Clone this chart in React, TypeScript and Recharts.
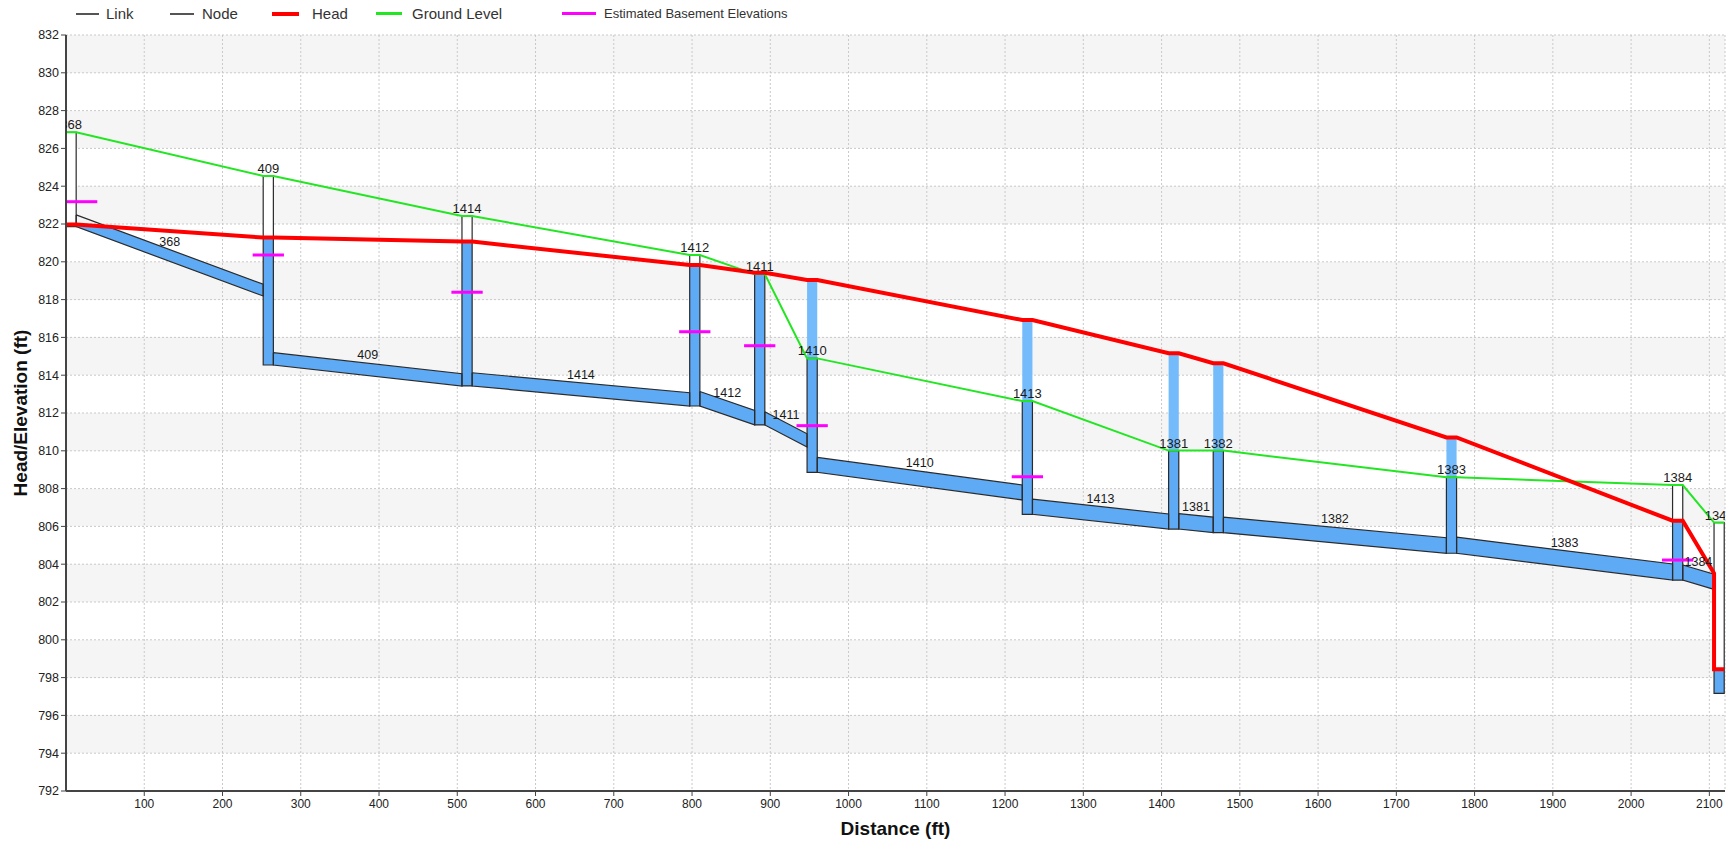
import React from 'react';
import { ComposedChart, XAxis, YAxis, CartesianGrid, Line, Area, ReferenceArea } from 'recharts';

const FONT = '"Liberation Sans", Arial, Helvetica, sans-serif';

// ---------- axes ----------
const xTicks = [100, 200, 300, 400, 500, 600, 700, 800, 900, 1000, 1100, 1200, 1300, 1400, 1500, 1600, 1700, 1800, 1900, 2000, 2100];
const yTicks = [792, 794, 796, 798, 800, 802, 804, 806, 808, 810, 812, 814, 816, 818, 820, 822, 824, 826, 828, 830, 832];
const xDomain = [0, 2120];
const yDomain = [792, 832];

// ---------- nodes ----------
const nodeNames = ['368', '409', '1414', '1412', '1411', '1410', '1413', '1381', '1382', '1383', '1384', '1348'];
const nodeStations = [0, 252, 506, 797, 880, 947, 1222, 1409, 1466, 1764, 2053, 2106];
const nodeInverts = [821.86, 814.54, 813.43, 812.37, 811.37, 808.86, 806.64, 805.86, 805.67, 804.58, 803.16, 797.17];
const nodeRims = [826.85, 824.54, 822.42, 820.36, 819.35, 814.89, 812.63, 810.01, 810.01, 808.6, 808.19, 806.2];
const nodeHeads = [821.97, 821.28, 821.07, 819.83, 819.42, 819.04, 816.92, 815.16, 814.63, 810.71, 806.3, 798.44];
const NODE_WIDTH = 13;

// ---------- basements ----------
const basementNodes = ['368', '409', '1414', '1412', '1411', '1410', '1413', '1384'];
const basementElevs = [823.18, 820.36, 818.39, 816.3, 815.56, 811.33, 808.63, 804.22];
const BASEMENT_WIDTH = 40;

// ---------- links (link i joins node i -> node i+1) ----------
const linkNames = ['368', '409', '1414', '1412', '1411', '1410', '1413', '1381', '1382', '1383', '1384'];
const linkUpInverts = [821.86, 814.54, 813.43, 812.37, 811.37, 808.86, 806.64, 805.86, 805.67, 804.58, 803.16];
const linkDownInverts = [818.19, 813.43, 812.37, 811.37, 810.2, 807.4, 805.86, 805.67, 804.58, 803.16, 802.67];
const linkHeights = [0.62, 0.65, 0.7, 0.77, 0.7, 0.79, 0.8, 0.82, 0.82, 0.85, 0.8];
const linkUpHeads = [821.97, 821.28, 821.07, 819.83, 819.42, 819.04, 816.92, 815.16, 814.63, 810.71, 806.3];
const linkDownHeads = [821.28, 821.07, 819.83, 819.42, 819.04, 816.92, 815.16, 814.63, 810.71, 806.3, 803.52];

// ---------- styles ----------
const BLUE = '#5eaaf5';
const LIGHT_BLUE = '#74bbfc';
const OUTLINE = '#2b2b2b';
const RED = '#ff0000';
const GREEN = '#22e622';
const MAGENTA = '#ff00ff';

// ---------- derived tables ----------
const nodeRight = (i: number) => nodeStations[i] + NODE_WIDTH;
const nodeCenter = (i: number) => nodeStations[i] + NODE_WIDTH / 2;

const headData: { x: number; y: number }[] = [];
const groundData: { x: number; y: number }[] = [];
nodeNames.forEach((_, i) => {
  headData.push({ x: nodeStations[i], y: nodeHeads[i] });
  headData.push({ x: nodeRight(i), y: nodeHeads[i] });
  groundData.push({ x: nodeStations[i], y: nodeRims[i] });
  groundData.push({ x: nodeRight(i), y: nodeRims[i] });
  if (i < linkNames.length) {
    headData.push({ x: nodeRight(i), y: linkUpHeads[i] });
    headData.push({ x: nodeStations[i + 1], y: linkDownHeads[i] });
  }
});

const linkFills = linkNames.map((_, i) => {
  const x0 = nodeRight(i);
  const x1 = nodeStations[i + 1];
  const b0 = linkUpInverts[i];
  const b1 = linkDownInverts[i];
  const h = linkHeights[i];
  const t0 = b0 + h;
  const t1 = b1 + h;
  const h0 = linkUpHeads[i];
  const h1 = linkDownHeads[i];
  const pts: { x: number; range: number[] }[] = [{ x: x0, range: [b0, Math.min(t0, h0)] }];
  const d0 = h0 - t0;
  const d1 = h1 - t1;
  if (d0 * d1 < 0) {
    const f = d0 / (d0 - d1);
    const xc = x0 + f * (x1 - x0);
    const bc = b0 + f * (b1 - b0);
    pts.push({ x: xc, range: [bc, bc + h] });
  }
  pts.push({ x: x1, range: [b1, Math.min(t1, h1)] });
  return pts;
});

const linkOutlines = linkNames.map((_, i) => {
  const x0 = nodeRight(i);
  const x1 = nodeStations[i + 1];
  const b0 = linkUpInverts[i];
  const b1 = linkDownInverts[i];
  const h = linkHeights[i];
  return [
    { x: x0, y: b0 + h },
    { x: x1, y: b1 + h },
    { x: x1, y: b1 },
    { x: x0, y: b0 },
    { x: x0, y: b0 + h },
  ];
});

const basementData = basementNodes.map((name, k) => {
  const i = nodeNames.indexOf(name);
  const x0 = Math.max(nodeCenter(i) - BASEMENT_WIDTH / 2, xDomain[0]);
  return [
    { x: x0, y: basementElevs[k] },
    { x: x0 + BASEMENT_WIDTH, y: basementElevs[k] },
  ];
});

const nodeLabelData = nodeNames.map((name, i) => ({ x: nodeCenter(i), y: nodeRims[i], label: name }));
const linkLabelData = linkNames.map((name, i) => ({
  x: (nodeRight(i) + nodeStations[i + 1]) / 2,
  y: (linkUpInverts[i] + linkDownInverts[i]) / 2 + linkHeights[i],
  label: name,
}));

const legendItems = [
  { label: 'Link', color: '#555555', w: 2, x0: 76, x1: 99, tx: 106, fs: 15 },
  { label: 'Node', color: '#555555', w: 2, x0: 170, x1: 194, tx: 202, fs: 15 },
  { label: 'Head', color: RED, w: 4, x0: 272, x1: 299, tx: 312, fs: 15 },
  { label: 'Ground Level', color: GREEN, w: 3, x0: 376, x1: 402, tx: 412, fs: 15 },
  { label: 'Estimated Basement Elevations', color: MAGENTA, w: 3, x0: 562, x1: 596, tx: 604, fs: 13 },
];

const xTitle = (props: any) => {
  const vb = props.viewBox || { x: 66, y: 791, width: 1659, height: 50 };
  return (
    <text x={vb.x + vb.width / 2} y={vb.y + vb.height - 6} textAnchor="middle" fontSize={19} fontWeight="bold" fill="#111" fontFamily={FONT}>
      Distance (ft)
    </text>
  );
};

const yTitle = (props: any) => {
  const vb = props.viewBox || { x: 8, y: 35, width: 58, height: 756 };
  const cx = vb.x + 12;
  const cy = vb.y + vb.height / 2;
  return (
    <text x={cx} y={cy} transform={`rotate(-90, ${cx}, ${cy})`} textAnchor="middle" dominantBaseline="central" fontSize={19} fontWeight="bold" fill="#111" fontFamily={FONT}>
      Head/Elevation (ft)
    </text>
  );
};

export default function App() {
  return (
    <div style={{ position: 'absolute', left: 0, top: 0, width: 1734, height: 846, background: '#fff', fontFamily: FONT }}>
      <ComposedChart width={1734} height={846} margin={{ top: 35, right: 9, bottom: 5, left: 8 }}>
        <CartesianGrid stroke="#c9c9c9" strokeDasharray="2 2" horizontalFill={['#f5f5f5', '#ffffff']} fillOpacity={1} />
        <XAxis
          type="number"
          dataKey="x"
          domain={xDomain}
          ticks={xTicks}
          interval={0}
          allowDataOverflow
          height={50}
          tickSize={5}
          tickMargin={3}
          axisLine={{ stroke: '#444', strokeWidth: 2 }}
          tickLine={{ stroke: '#444' }}
          tick={{ fill: '#222', fontSize: 12, fontFamily: FONT }}
          label={xTitle}
        />
        <YAxis
          type="number"
          domain={yDomain}
          ticks={yTicks}
          interval={0}
          allowDataOverflow
          width={58}
          tickSize={5}
          tickMargin={2}
          axisLine={{ stroke: '#444', strokeWidth: 2 }}
          tickLine={{ stroke: '#444' }}
          tick={{ fill: '#222', fontSize: 12.5, fontFamily: FONT }}
          label={yTitle}
        />

        {nodeNames.map((_, i) =>
          nodeHeads[i] > nodeRims[i] ? (
            <ReferenceArea key={`sc-${i}`} x1={nodeStations[i]} x2={nodeRight(i)} y1={nodeRims[i]} y2={nodeHeads[i]} fill={LIGHT_BLUE} fillOpacity={1} stroke="none" ifOverflow="visible" />
          ) : null
        )}
        {nodeNames.map((_, i) => (
          <ReferenceArea key={`nw-${i}`} x1={nodeStations[i]} x2={nodeRight(i)} y1={nodeInverts[i]} y2={nodeRims[i]} fill="#ffffff" fillOpacity={1} stroke="none" ifOverflow="visible" />
        ))}
        {nodeNames.map((_, i) => (
          <ReferenceArea key={`nb-${i}`} x1={nodeStations[i]} x2={nodeRight(i)} y1={nodeInverts[i]} y2={Math.min(nodeHeads[i], nodeRims[i])} fill={BLUE} fillOpacity={1} stroke="none" ifOverflow="visible" />
        ))}

        {linkFills.map((pts, i) => (
          <Area key={`lf-${i}`} data={pts} dataKey="range" type="linear" stroke="none" fill={BLUE} fillOpacity={1} dot={false} activeDot={false} isAnimationActive={false} />
        ))}
        {linkOutlines.map((pts, i) => (
          <Line key={`lo-${i}`} data={pts} dataKey="y" type="linear" stroke={OUTLINE} strokeWidth={1.2} dot={false} activeDot={false} isAnimationActive={false} />
        ))}
        {nodeNames.map((_, i) => (
          <ReferenceArea key={`no-${i}`} x1={nodeStations[i]} x2={nodeRight(i)} y1={nodeInverts[i]} y2={nodeRims[i]} fill="none" stroke={OUTLINE} strokeWidth={1.2} ifOverflow="visible" />
        ))}

        <Line data={groundData} dataKey="y" type="linear" stroke={GREEN} strokeWidth={2} dot={false} activeDot={false} isAnimationActive={false} />
        <Line data={headData} dataKey="y" type="linear" stroke={RED} strokeWidth={4} dot={false} activeDot={false} isAnimationActive={false} />
        {basementData.map((pts, i) => (
          <Line key={`bs-${i}`} data={pts} dataKey="y" type="linear" stroke={MAGENTA} strokeWidth={3} dot={false} activeDot={false} isAnimationActive={false} />
        ))}

        <Line
          data={nodeLabelData}
          dataKey="y"
          stroke="none"
          activeDot={false}
          isAnimationActive={false}
          dot={(p: any) => (
            <text key={`nl-${p.index}`} x={p.cx} y={p.cy - 3} textAnchor="middle" fontSize={13} fill="#1a1a1a" fontFamily={FONT}>
              {p.payload.label}
            </text>
          )}
        />
        <Line
          data={linkLabelData}
          dataKey="y"
          stroke="none"
          activeDot={false}
          isAnimationActive={false}
          dot={(p: any) => (
            <text key={`ll-${p.index}`} x={p.cx} y={p.cy - 4} textAnchor="middle" fontSize={12.5} fill="#1a1a1a" fontFamily={FONT}>
              {p.payload.label}
            </text>
          )}
        />
      </ComposedChart>

      {legendItems.map((it) => (
        <React.Fragment key={it.label}>
          <div style={{ position: 'absolute', left: it.x0, top: 13.5 - it.w / 2, width: it.x1 - it.x0, height: it.w, background: it.color }} />
          <div style={{ position: 'absolute', left: it.tx, top: 4, height: 19, lineHeight: '19px', fontSize: it.fs, color: '#333', whiteSpace: 'nowrap', fontFamily: FONT }}>
            {it.label}
          </div>
        </React.Fragment>
      ))}
    </div>
  );
}
